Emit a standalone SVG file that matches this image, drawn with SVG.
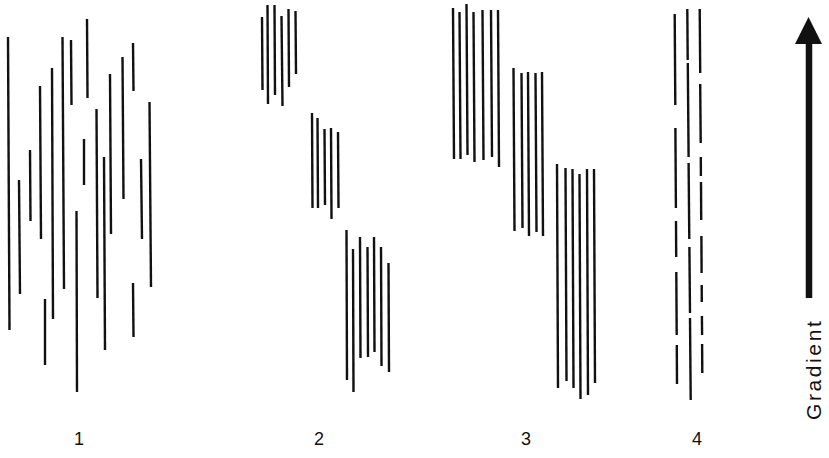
<svg xmlns="http://www.w3.org/2000/svg" width="829" height="458" viewBox="0 0 829 458">
  <style>
    .ln { stroke: #111; stroke-width: 2.4; stroke-linecap: butt; fill: none; }
    .num { font-family: "Liberation Sans", Arial, sans-serif; font-size: 18px; fill: #111; text-anchor: middle; }
    .lbl { font-family: "Liberation Sans", Arial, sans-serif; font-size: 21px; letter-spacing: 2.6px; fill: #111; }
  </style>
  <rect width="829" height="458" fill="#fff"/>

  <!-- 1: scattered fibres -->
  <g id="panel1">
    <line class="ln" x1="8" y1="37" x2="9.5" y2="330"/>
    <line class="ln" x1="19" y1="180" x2="20" y2="294"/>
    <line class="ln" x1="30" y1="150" x2="30.5" y2="221"/>
    <line class="ln" x1="40" y1="86" x2="41" y2="239"/>
    <line class="ln" x1="45" y1="299" x2="45" y2="365"/>
    <line class="ln" x1="52" y1="68" x2="53" y2="319"/>
    <line class="ln" x1="62.5" y1="37" x2="64" y2="289"/>
    <line class="ln" x1="71" y1="40" x2="71.5" y2="105"/>
    <line class="ln" x1="76.5" y1="211" x2="77" y2="392"/>
    <line class="ln" x1="84" y1="139" x2="84" y2="185"/>
    <line class="ln" x1="87" y1="19" x2="87.5" y2="98"/>
    <line class="ln" x1="96.5" y1="109" x2="97.5" y2="298"/>
    <line class="ln" x1="104" y1="157" x2="105" y2="350"/>
    <line class="ln" x1="110" y1="74" x2="111" y2="234"/>
    <line class="ln" x1="122.5" y1="57" x2="123.5" y2="199"/>
    <line class="ln" x1="133" y1="43" x2="133.5" y2="91"/>
    <line class="ln" x1="133" y1="283" x2="133.5" y2="337"/>
    <line class="ln" x1="141" y1="159" x2="142" y2="239"/>
    <line class="ln" x1="149.5" y1="102" x2="151" y2="287"/>
    <text class="num" x="79" y="445">1</text>
  </g>

  <!-- 2: three small staggered bundles -->
  <g id="panel2">
    <line class="ln" x1="262" y1="17" x2="262.5" y2="90"/>
    <line class="ln" x1="267.5" y1="5" x2="268" y2="104"/>
    <line class="ln" x1="274.5" y1="5" x2="275" y2="95"/>
    <line class="ln" x1="281.5" y1="16" x2="282.5" y2="106"/>
    <line class="ln" x1="288.5" y1="9" x2="289" y2="87"/>
    <line class="ln" x1="295.5" y1="11" x2="296" y2="74"/>

    <line class="ln" x1="312" y1="113" x2="312.5" y2="208"/>
    <line class="ln" x1="317.5" y1="118" x2="318" y2="208"/>
    <line class="ln" x1="324.5" y1="129" x2="325" y2="205"/>
    <line class="ln" x1="331" y1="128" x2="331.5" y2="219"/>
    <line class="ln" x1="338" y1="132" x2="338.5" y2="208"/>

    <line class="ln" x1="346.5" y1="230" x2="347" y2="380"/>
    <line class="ln" x1="353" y1="249" x2="353.5" y2="392"/>
    <line class="ln" x1="360" y1="237" x2="360.5" y2="358"/>
    <line class="ln" x1="367.5" y1="247" x2="368" y2="357"/>
    <line class="ln" x1="374" y1="237" x2="374.5" y2="352"/>
    <line class="ln" x1="381" y1="247" x2="381.5" y2="366"/>
    <line class="ln" x1="388.5" y1="263" x2="389" y2="372"/>
    <text class="num" x="319" y="445">2</text>
  </g>

  <!-- 3: three long staggered bundles -->
  <g id="panel3">
    <line class="ln" x1="453" y1="8" x2="454" y2="159"/>
    <line class="ln" x1="459.5" y1="12" x2="460.5" y2="159"/>
    <line class="ln" x1="466.5" y1="4" x2="467.5" y2="155"/>
    <line class="ln" x1="473.5" y1="12" x2="474.5" y2="162"/>
    <line class="ln" x1="482.5" y1="10" x2="483.5" y2="160"/>
    <line class="ln" x1="491" y1="10" x2="492" y2="157"/>
    <line class="ln" x1="498" y1="10" x2="499" y2="167"/>

    <line class="ln" x1="513.5" y1="68" x2="514.5" y2="231"/>
    <line class="ln" x1="521.5" y1="73" x2="522.5" y2="228"/>
    <line class="ln" x1="528" y1="72" x2="529" y2="236"/>
    <line class="ln" x1="535.5" y1="73" x2="536.5" y2="232"/>
    <line class="ln" x1="542" y1="72" x2="543" y2="236"/>

    <line class="ln" x1="557" y1="164" x2="558" y2="388"/>
    <line class="ln" x1="565.5" y1="168" x2="566.5" y2="381"/>
    <line class="ln" x1="572.5" y1="169" x2="573.5" y2="388"/>
    <line class="ln" x1="579.5" y1="174" x2="580.5" y2="399"/>
    <line class="ln" x1="587" y1="169" x2="588" y2="395"/>
    <line class="ln" x1="594" y1="169" x2="595" y2="383"/>
    <text class="num" x="526" y="445">3</text>
  </g>

  <!-- 4: three broken (segmented) fibres -->
  <g id="panel4">
    <line class="ln" x1="674.7" y1="14" x2="675.3" y2="105"/>
    <line class="ln" x1="675.4" y1="128" x2="675.9" y2="208"/>
    <line class="ln" x1="676.0" y1="221" x2="676.2" y2="257"/>
    <line class="ln" x1="676.3" y1="272" x2="676.7" y2="335"/>
    <line class="ln" x1="676.8" y1="345" x2="677.0" y2="384"/>

    <line class="ln" x1="687.3" y1="9" x2="687.7" y2="60"/>
    <line class="ln" x1="687.8" y1="63" x2="688.6" y2="157"/>
    <line class="ln" x1="688.6" y1="163" x2="689.3" y2="239"/>
    <line class="ln" x1="689.4" y1="247" x2="690.0" y2="313"/>
    <line class="ln" x1="690.0" y1="318" x2="690.7" y2="400"/>

    <line class="ln" x1="699.7" y1="9" x2="700.2" y2="73"/>
    <line class="ln" x1="700.2" y1="84" x2="700.7" y2="143"/>
    <line class="ln" x1="700.8" y1="157" x2="700.9" y2="176"/>
    <line class="ln" x1="701.0" y1="182" x2="701.2" y2="220"/>
    <line class="ln" x1="701.4" y1="236" x2="701.6" y2="273"/>
    <line class="ln" x1="701.7" y1="285" x2="701.8" y2="302"/>
    <line class="ln" x1="701.9" y1="316" x2="702.1" y2="335"/>
    <line class="ln" x1="702.1" y1="344" x2="702.3" y2="373"/>
    <text class="num" x="697" y="445">4</text>
  </g>

  <!-- gradient direction arrow -->
  <g id="connectors">
    <g id="gradient-arrow">
      <line x1="809" y1="298" x2="809" y2="42" stroke="#111" stroke-width="6.5"/>
      <polygon points="808.5,17 822,44 795,44" fill="#111"/>
      <text class="lbl" transform="translate(821,420) rotate(-90)">Gradient</text>
    </g>
  </g>
</svg>
